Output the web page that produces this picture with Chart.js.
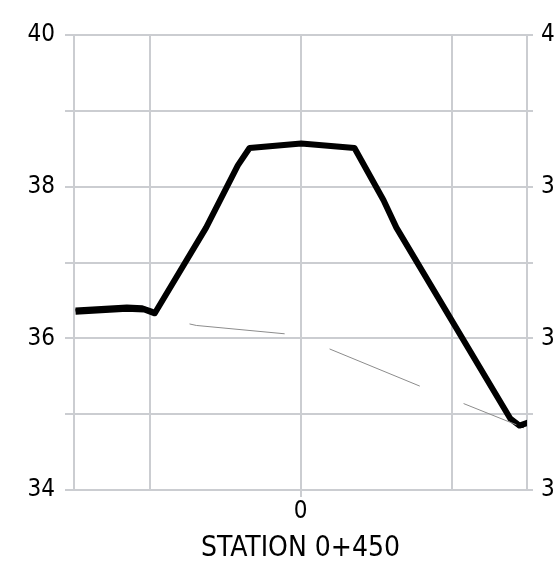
<!DOCTYPE html>
<html>
<head>
<meta charset="utf-8">
<script src="https://cdn.jsdelivr.net/npm/chart.js@4/dist/chart.umd.min.js"></script>
<style>
  html, body { margin: 0; padding: 0; background: #fff; overflow: hidden; }
  #wrap { width: 600px; height: 566px; }
</style>
</head>
<body>
<div id="wrap"><canvas id="myChart" width="600" height="566"></canvas></div>
<script>
// section data (offset in m, elevation in m)
var profileX = [-29.8, -23.0, -20.7, -19.3, -12.5, -8.3, -6.75, 0.1, 7.15, 11.0, 12.7, 27.8, 29.0, 30.2];
var profileY = [36.35, 36.39, 36.38, 36.33, 37.46, 38.28, 38.51, 38.57, 38.51, 37.82, 37.46, 34.94, 34.85, 34.89];

// second pass of the profile line near both ends
var edgeX = [-29.8, -23.0, -21.0, -19.5, null, 27.6, 29.0, 29.6];
var edgeY = [36.38, 36.42, 36.41, 36.36, null, 34.96, 34.86, 34.84];

// thin grey lines under the profile
var thinX = [-14.7, -13.8, -2.1, null, 3.85, 15.8, null, 21.6, 28.6];
var thinY = [36.19, 36.17, 36.06, null, 35.86, 35.37, null, 35.14, 34.86];

var xTicks = [-30, -20, 0, 20, 30];
var yLabels = [34, 36, 38, 40];
var axisTitle = "STATION 0+450";

function toPoints(xs, ys) {
  var out = [];
  for (var i = 0; i < xs.length; i++) {
    out.push(xs[i] === null ? {x: null, y: null} : {x: xs[i], y: ys[i]});
  }
  return out;
}

var gridColor = '#cbcdd1';
var fontFam = "'Liberation Sans Narrow', 'Arial Narrow', 'DejaVu Sans Condensed', sans-serif";

function yTickLabel(v) {
  return yLabels.indexOf(v) >= 0 ? String(v) : '';
}

var config = {
  type: 'line',
  data: {
    datasets: [{
      data: toPoints(thinX, thinY),
      borderColor: '#8c8c8c',
      borderWidth: 1,
      pointRadius: 0,
      spanGaps: false
    }, {
      data: toPoints(edgeX, edgeY),
      borderColor: '#000',
      borderWidth: 4,
      pointRadius: 0,
      spanGaps: false
    }, {
      data: toPoints(profileX, profileY),
      borderColor: '#000',
      borderWidth: 6,
      pointRadius: 0,
      borderJoinStyle: 'round'
    }]
  },
  options: {
    responsive: false,
    animation: false,
    layout: { padding: { left: 14, right: 13, top: 35, bottom: 0 } },
    plugins: { legend: { display: false }, tooltip: { enabled: false } },
    scales: {
      x: {
        type: 'linear',
        min: -30, max: 30,
        afterBuildTicks: function(axis) {
          axis.ticks = xTicks.map(function(v) { return {value: v}; });
        },
        afterFit: function(axis) { axis.height = 76; },
        grid: {
          color: gridColor, lineWidth: 2, tickLength: 7,
          tickColor: function(ctx) { return ctx.tick && ctx.tick.value === 0 ? gridColor : 'rgba(0,0,0,0)'; }
        },
        border: { color: gridColor, width: 2 },
        ticks: {
          autoSkip: false, maxRotation: 0, padding: 0,
          color: '#000', font: { family: fontFam, size: 24 },
          callback: function(v) { return v === 0 ? '0' : ''; }
        },
        title: {
          display: true, text: axisTitle, color: '#000',
          font: { family: fontFam, size: 28 }, padding: { top: 0, bottom: 0 }
        }
      },
      y: {
        position: 'left',
        min: 34, max: 40,
        afterFit: function(axis) { axis.width = 60; },
        grid: { color: gridColor, lineWidth: 2, tickLength: 9 },
        border: { color: gridColor, width: 2 },
        ticks: {
          stepSize: 1, autoSkip: false, padding: 10,
          color: '#000', font: { family: fontFam, size: 24 },
          callback: yTickLabel
        }
      },
      y2: {
        position: 'right',
        min: 34, max: 40,
        afterFit: function(axis) { axis.width = 60; },
        grid: { drawOnChartArea: false, color: gridColor, lineWidth: 2, tickLength: 6 },
        border: { color: gridColor, width: 2 },
        ticks: {
          stepSize: 1, autoSkip: false, padding: 8,
          color: '#000', font: { family: fontFam, size: 24 },
          callback: yTickLabel
        }
      }
    }
  }
};

var myChart = new Chart(document.getElementById('myChart'), config);
</script>
</body>
</html>
